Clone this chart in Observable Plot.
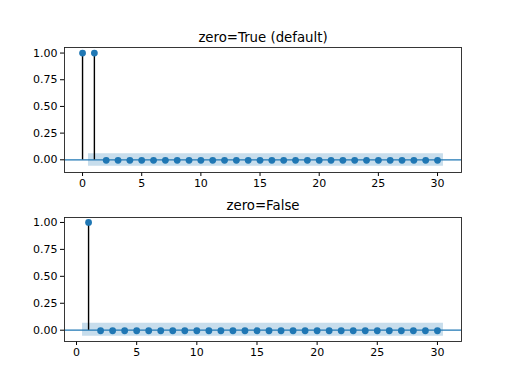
<!DOCTYPE html>
<html>
<head>
<meta charset="utf-8">
<script src="https://cdn.jsdelivr.net/npm/d3@7"></script>
<script src="https://cdn.jsdelivr.net/npm/@observablehq/plot@0.6"></script>
<style>
  html, body { margin: 0; padding: 0; background: #fff; }
  #chart { width: 512px; height: 384px; }
  #chart svg { display: block; }
</style>
</head>
<body>
<div id="chart"></div>
<script>
// ---- data ----
const titleTop = "zero=True (default)";
const titleBottom = "zero=False";

const lagsTop = [0, 1, 2, 3, 4, 5, 6, 7, 8, 9, 10, 11, 12, 13, 14, 15, 16, 17, 18, 19, 20, 21, 22, 23, 24, 25, 26, 27, 28, 29, 30];
const acfTop = [1.0, 1.0, -0.005, -0.005, -0.005, -0.005, -0.005, -0.005, -0.005, -0.005, -0.005, -0.005, -0.005, -0.005, -0.005, -0.005, -0.005, -0.005, -0.005, -0.005, -0.005, -0.005, -0.005, -0.005, -0.005, -0.005, -0.005, -0.005, -0.005, -0.005, -0.005];
const confLowTop = [-0.06, -0.06, -0.06, -0.06, -0.06, -0.06, -0.06, -0.06, -0.06, -0.06, -0.06, -0.06, -0.06, -0.06, -0.06, -0.06, -0.06, -0.06, -0.06, -0.06, -0.06, -0.06, -0.06, -0.06, -0.06, -0.06, -0.06, -0.06, -0.06, -0.06];
const confHighTop = [0.056, 0.056, 0.056, 0.056, 0.056, 0.056, 0.056, 0.056, 0.056, 0.056, 0.056, 0.056, 0.056, 0.056, 0.056, 0.056, 0.056, 0.056, 0.056, 0.056, 0.056, 0.056, 0.056, 0.056, 0.056, 0.056, 0.056, 0.056, 0.056, 0.056];

const lagsBottom = [1, 2, 3, 4, 5, 6, 7, 8, 9, 10, 11, 12, 13, 14, 15, 16, 17, 18, 19, 20, 21, 22, 23, 24, 25, 26, 27, 28, 29, 30];
const acfBottom = [1.0, -0.005, -0.005, -0.005, -0.005, -0.005, -0.005, -0.005, -0.005, -0.005, -0.005, -0.005, -0.005, -0.005, -0.005, -0.005, -0.005, -0.005, -0.005, -0.005, -0.005, -0.005, -0.005, -0.005, -0.005, -0.005, -0.005, -0.005, -0.005, -0.005];
const confLowBottom = [-0.056, -0.056, -0.056, -0.056, -0.056, -0.056, -0.056, -0.056, -0.056, -0.056, -0.056, -0.056, -0.056, -0.056, -0.056, -0.056, -0.056, -0.056, -0.056, -0.056, -0.056, -0.056, -0.056, -0.056, -0.056, -0.056, -0.056, -0.056, -0.056, -0.056];
const confHighBottom = [0.065, 0.065, 0.065, 0.065, 0.065, 0.065, 0.065, 0.065, 0.065, 0.065, 0.065, 0.065, 0.065, 0.065, 0.065, 0.065, 0.065, 0.065, 0.065, 0.065, 0.065, 0.065, 0.065, 0.065, 0.065, 0.065, 0.065, 0.065, 0.065, 0.065];

const xTicks = [0, 5, 10, 15, 20, 25, 30];
const yTicks = [0, 0.25, 0.5, 0.75, 1.0];

// ---- helpers ----
const blue = "#1f77b4";

function bandRows(lags, lo, hi) {
  // confidence band spans the non-zero lags, edges widened by half a lag (statsmodels style)
  const n = lags.length;
  return lags.map((l, i) => ({
    x: i === 0 ? l - 0.5 : (i === n - 1 ? l + 0.5 : l),
    y1: lo[i], y2: hi[i]
  }));
}

function acfPlot({lags, acf, band, title, xDomain, yDomain, marginTop, marginBottom, titleDy}) {
  const rows = lags.map((l, i) => ({lag: l, acf: acf[i]}));
  return Plot.plot({
    width: 512,
    height: 192,
    marginLeft: 64,
    marginRight: 51,
    marginTop,
    marginBottom,
    style: {fontFamily: "DejaVu Sans", fontSize: "11px", color: "#000", background: "#fff"},
    x: {domain: xDomain, ticks: xTicks, tickSize: 4, tickPadding: 3, label: null},
    y: {domain: yDomain, ticks: yTicks, tickSize: 4, tickPadding: 3, tickFormat: d3.format(".2f"), label: null},
    marks: [
      Plot.areaY(band, {x: "x", y1: "y1", y2: "y2", fill: blue, fillOpacity: 0.25}),
      Plot.ruleY([0], {stroke: blue, strokeWidth: 1.2}),
      Plot.ruleX(rows, {x: "lag", y1: 0, y2: "acf", stroke: "#000", strokeWidth: 1.4}),
      Plot.dot(rows, {x: "lag", y: "acf", r: 3.4, fill: blue, stroke: "none"}),
      Plot.frame({stroke: "#222", strokeWidth: 0.9}),
      Plot.text([title], {frameAnchor: "top", dy: titleDy, lineAnchor: "bottom", fontSize: 13.3, fill: "#000"})
    ]
  });
}

const chart = document.getElementById("chart");
chart.append(acfPlot({
  lags: lagsTop, acf: acfTop,
  band: bandRows(lagsTop.slice(1), confLowTop, confHighTop),
  title: titleTop,
  xDomain: [-1.525, 32.025], yDomain: [-0.119, 1.052],
  marginTop: 47, marginBottom: 20, titleDy: -6
}));
chart.append(acfPlot({
  lags: lagsBottom, acf: acfBottom,
  band: bandRows(lagsBottom, confLowBottom, confHighBottom),
  title: titleBottom,
  xDomain: [-1.0, 32.0], yDomain: [-0.105, 1.046],
  marginTop: 25, marginBottom: 43, titleDy: -8
}));
</script>
</body>
</html>
